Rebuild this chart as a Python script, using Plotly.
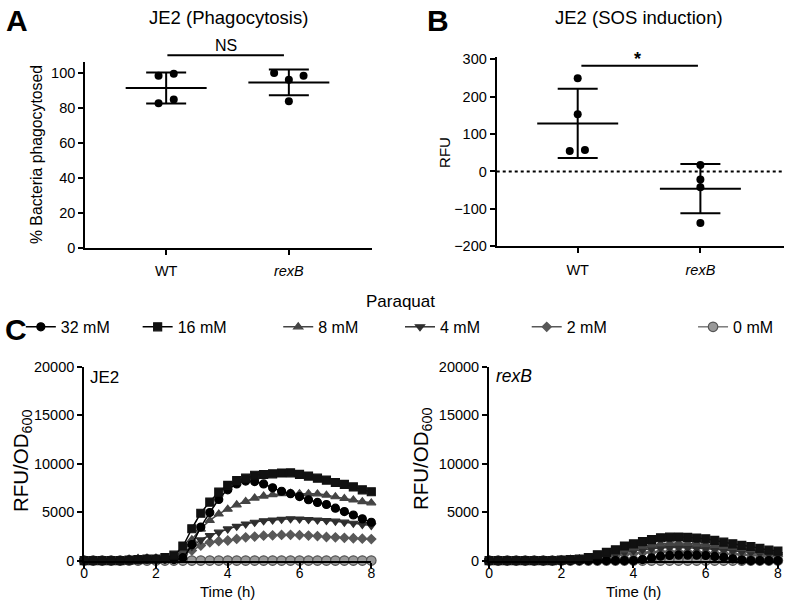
import plotly.graph_objects as go
import statistics

W, H = 800, 609
FONT = "Liberation Sans, Arial, sans-serif"

# the photographed page maps figure y -> 9 + 0.971*y ; positions below are given in
# target-picture pixels and converted back to figure pixels
SY, OY = 0.971, 9.0


def px(x):
    return x / W


def fy(ry):
    return (ry - OY) / SY


def py(ry):
    return (H - fy(ry)) / H


# ---------------- data ----------------
groups = ["WT", "<i>rexB</i>"]
group_pos = [1, 2]

phago_wt = [98.3, 99.4, 82.5, 84.6]
phago_rexb = [99.8, 96.0, 98.3, 83.6]
phago_wt_dx = [-0.062, 0.062, -0.062, 0.062]
phago_rexb_dx = [-0.12, 0.0, 0.12, 0.0]

sos_wt = [249.0, 152.7, 54.5, 57.0]
sos_rexb = [17.0, -21.4, -42.0, -137.5]
sos_wt_dx = [0.0, 0.0, -0.065, 0.059]
sos_rexb_dx = [0.0, 0.0, 0.0, 0.0]

time_h = [0, 0.25, 0.5, 0.75, 1, 1.25, 1.5, 1.75, 2, 2.25, 2.5, 2.75, 3, 3.25, 3.5, 3.75,
          4, 4.25, 4.5, 4.75, 5, 5.25, 5.5, 5.75, 6, 6.25, 6.5, 6.75, 7, 7.25, 7.5, 7.75, 8]

conc_labels = ["32 mM", "16 mM", "8 mM", "4 mM", "2 mM", "0 mM"]

je2_32 = [0, 0, 0, 0, 0, 50, 100, 150, 150, 150, 100, 300, 1650, 3450, 4950, 6300, 7300,
          7900, 8200, 8150, 7900, 7500, 7150, 6900, 6600, 6270, 6000, 5780, 5400, 5050, 4700, 4300, 3950]
je2_16 = [0, 0, 0, 0, 0, 50, 100, 150, 150, 300, 550, 1500, 3280, 4880, 6030, 7060, 7750,
          8250, 8500, 8800, 8880, 8950, 9030, 9050, 8900, 8720, 8500, 8300, 8050, 7850, 7600, 7300, 7100]
je2_8 = [0, 0, 0, 0, 0, 100, 200, 200, 200, 150, 200, 900, 2150, 3250, 4130, 4800, 5300,
         5750, 6100, 6450, 6650, 6800, 6900, 6950, 6900, 6900, 6880, 6750, 6580, 6400, 6250, 6080, 5950]
je2_4 = [0, 0, 0, 0, 0, 150, 250, 250, 250, 200, 250, 800, 1450, 2130, 2580, 2930, 3260,
         3530, 3770, 3950, 4100, 4180, 4250, 4300, 4280, 4230, 4180, 4130, 4060, 3960, 3850, 3720, 3620]
je2_2 = [0, 0, 0, 0, 0, 100, 150, 200, 200, 150, 200, 600, 1030, 1540, 1880, 2000, 2070,
         2230, 2400, 2470, 2570, 2600, 2640, 2650, 2620, 2580, 2520, 2430, 2400, 2350, 2300, 2260, 2220]
je2_0 = [0, 0, 0, 0, 0, 0, 0, 0, 0, 0, 0, 0, 0, 0, 0, 0, 0,
         0, 0, 0, 0, 0, 0, 0, 0, 0, 0, 0, 0, 0, 0, 0, 0]

rexb_32 = [0, 0, 0, 0, 0, 0, 0, 0, 0, 0, 0, 0, 0, 0, 0, 0, 0,
           100, 280, 450, 530, 560, 560, 550, 520, 430, 330, 180, 50, 0, 0, 0, 0]
rexb_16 = [0, 0, 0, 0, 0, 0, 0, 0, 50, 100, 150, 300, 600, 850, 1100, 1500, 1720,
           1950, 2150, 2350, 2420, 2430, 2400, 2320, 2240, 2080, 1900, 1730, 1570, 1450, 1250, 1080, 980]
rexb_8 = [0, 0, 0, 0, 0, 0, 0, 0, 50, 100, 150, 250, 450, 650, 850, 1100, 1300,
          1480, 1620, 1720, 1780, 1800, 1780, 1720, 1650, 1560, 1460, 1350, 1240, 1120, 1000, 880, 780]
rexb_4 = [0, 0, 0, 0, 0, 0, 0, 0, 50, 80, 120, 200, 350, 500, 680, 850, 1000,
          1120, 1220, 1290, 1330, 1340, 1320, 1280, 1220, 1150, 1070, 990, 910, 830, 750, 680, 620]
rexb_2 = [0, 0, 0, 0, 0, 0, 0, 0, 30, 60, 100, 150, 250, 380, 500, 620, 720,
          800, 860, 900, 920, 920, 900, 870, 830, 780, 730, 680, 630, 580, 530, 480, 440]
rexb_0 = [0, 0, 0, 0, 0, 0, 0, 0, 0, 0, 0, 0, 0, 0, 0, 0, 0,
          0, 0, 0, 0, 0, 0, 0, 0, 0, 0, 0, 0, 0, 0, 0, 0]

c_yticks = [0, 5000, 10000, 15000, 20000]
c_xticks = [0, 2, 4, 6, 8]

# ---------------- styles ----------------
series_style = [
    dict(symbol="circle", color="#000000", line="#000000", size=8, lc="#000000"),
    dict(symbol="square", color="#111111", line="#111111", size=8, lc="#000000"),
    dict(symbol="triangle-up", color="#444444", line="#444444", size=8, lc="#444444"),
    dict(symbol="triangle-down", color="#2e2e2e", line="#2e2e2e", size=8, lc="#333333"),
    dict(symbol="diamond", color="#585858", line="#585858", size=7, lc="#585858"),
    dict(symbol="circle", color="#999999", line="#555555", size=9.5, lc="#7a7a7a"),
]
legend_x_px = [40, 158, 300, 423, 551, 719]
legend_names = ["legend", "legend2", "legend3", "legend4", "legend5", "legend6"]

XR = [0.34, 2.68]
YR_A = [0, 106]
YR_B = [-200, 306]

fig = go.Figure()


def dot_plot(xa, ya, vals_list, dx_list):
    for pos, vals, dx in zip(group_pos, vals_list, dx_list):
        m = statistics.mean(vals)
        sd = statistics.stdev(vals)
        fig.add_trace(go.Scatter(x=[pos - 0.33, pos + 0.33], y=[m, m], mode="lines",
                                 line=dict(color="black", width=2), xaxis=xa, yaxis=ya,
                                 showlegend=False, hoverinfo="skip"))
        fig.add_trace(go.Scatter(x=[pos], y=[m], mode="markers",
                                 marker=dict(size=1, color="rgba(0,0,0,0)"),
                                 error_y=dict(type="data", array=[sd], visible=True,
                                              color="black", thickness=2, width=20),
                                 xaxis=xa, yaxis=ya, showlegend=False, hoverinfo="skip"))
        fig.add_trace(go.Scatter(x=[pos + d for d in dx], y=vals, mode="markers",
                                 marker=dict(size=8, color="black"), xaxis=xa, yaxis=ya,
                                 showlegend=False, cliponaxis=False))


dot_plot("x", "y", [phago_wt, phago_rexb], [phago_wt_dx, phago_rexb_dx])
dot_plot("x2", "y2", [sos_wt, sos_rexb], [sos_wt_dx, sos_rexb_dx])

je2_series = [je2_32, je2_16, je2_8, je2_4, je2_2, je2_0]
rexb_series = [rexb_32, rexb_16, rexb_8, rexb_4, rexb_2, rexb_0]

order = [5, 4, 3, 2, 0, 1]
for xa, ya, series, show in [("x3", "y3", je2_series, True), ("x4", "y4", rexb_series, False)]:
    for i in order:
        st = series_style[i]
        fig.add_trace(go.Scatter(
            x=time_h, y=series[i], mode="lines+markers", name=conc_labels[i],
            line=dict(color=st["lc"], width=1.5, shape="spline", smoothing=0.5),
            marker=dict(symbol=st["symbol"], size=st["size"], color=st["color"],
                        line=dict(color=st["line"], width=1.2)),
            xaxis=xa, yaxis=ya, showlegend=show, legend=legend_names[i],
            cliponaxis=False))

axis_common = dict(showline=True, linewidth=2, linecolor="black", ticks="outside",
                   ticklen=5, tickwidth=2, tickcolor="black", showgrid=False, zeroline=False,
                   tickfont=dict(family=FONT, size=14.5, color="black"))
axis_c_x = dict(axis_common, tickfont=dict(family=FONT, size=14, color="black"))

fig.update_layout(
    width=W, height=H, margin=dict(l=0, r=0, t=0, b=0),
    paper_bgcolor="white", plot_bgcolor="white",
    font=dict(family=FONT, color="black"),
    xaxis=dict(domain=[px(82), px(372)], range=XR, tickvals=group_pos, ticktext=groups,
               anchor="y", ticklabelstandoff=4, **axis_common),
    yaxis=dict(domain=[py(248), py(63)], range=YR_A, tickvals=[0, 20, 40, 60, 80, 100],
               anchor="x", **axis_common),
    xaxis2=dict(domain=[px(497.7), px(787.7)], range=XR, tickvals=group_pos, ticktext=groups,
                anchor="y2", ticklabelstandoff=4, **axis_common),
    yaxis2=dict(domain=[py(246.7), py(57.7)], range=YR_B,
                tickvals=[-200, -100, 0, 100, 200, 300], anchor="x2", **axis_common),
    xaxis3=dict(domain=[px(81), px(371)], range=[0, 8], tickvals=c_xticks,
                anchor="y3", ticklabelstandoff=-6, **axis_c_x),
    yaxis3=dict(domain=[py(560), py(366.7)], range=[0, 20000], tickvals=c_yticks,
                ticktext=[str(v) for v in c_yticks], anchor="x3", **axis_common),
    xaxis4=dict(domain=[px(490), px(781.7)], range=[0, 8], tickvals=c_xticks,
                anchor="y4", ticklabelstandoff=-6, **axis_c_x),
    yaxis4=dict(domain=[py(560), py(366.7)], range=[0, 20000], tickvals=c_yticks,
                ticktext=[str(v) for v in c_yticks], anchor="x4", **axis_common),
)

for i, name in enumerate(legend_names):
    fig.update_layout(**{name: dict(
        x=px(legend_x_px[i] - 23), y=py(327), xanchor="left", yanchor="middle",
        orientation="h", bgcolor="rgba(0,0,0,0)", borderwidth=0, itemwidth=30,
        font=dict(family=FONT, size=16, color="black"))})


def frac(v, r):
    return (v - r[0]) / (r[1] - r[0])


fig.add_shape(type="line", xref="x domain", yref="y domain",
              x0=frac(1.01, XR), x1=frac(1.96, XR), y0=frac(109.9, YR_A), y1=frac(109.9, YR_A),
              line=dict(color="black", width=2))
fig.add_shape(type="line", xref="x2 domain", yref="y2 domain",
              x0=frac(1.03, XR), x1=frac(1.98, XR), y0=frac(282, YR_B), y1=frac(282, YR_B),
              line=dict(color="black", width=2))
fig.add_shape(type="line", xref="x2 domain", yref="y2 domain", x0=0, x1=1,
              y0=frac(0, YR_B), y1=frac(0, YR_B), line=dict(color="black", width=2, dash="dot"))


def ann(text, x, y, size, xanchor="center", yanchor="middle", angle=0, bold=False,
        paper_y=None):
    if bold:
        text = "<b>" + text + "</b>"
    fig.add_annotation(text=text, x=px(x), y=py(y) if paper_y is None else paper_y,
                       xref="paper", yref="paper", borderpad=0,
                       xanchor=xanchor, yanchor=yanchor, textangle=angle, showarrow=False,
                       font=dict(family=FONT, size=size, color="black"))


ann("A", 13, 21, 30, bold=True)
ann("B", 438, 21, 30, bold=True)
ann("C", 12, 330, 30, bold=True)
ann("JE2 (Phagocytosis)", 227, 18, 18.5)
ann("JE2 (SOS induction)", 641, 18, 18.5)
ann("NS", 224, 46, 16)
ann("*", 640, 60, 18, bold=True)
ann("% Bacteria phagocytosed", 33, 155, 15.8, angle=-90)
ann("RFU", 445, 153, 15, angle=-90)
ann("Paraquat", 400, 302, 17)
ann("RFU/OD<sub>600</sub>", 18, 460, 20.5, angle=-90)
ann("RFU/OD<sub>600</sub>", 422, 458, 20.5, angle=-90)
ann("Time (h)", 226, 0, 15, yanchor="bottom", paper_y=0)
ann("Time (h)", 636, 0, 15, yanchor="bottom", paper_y=0)
ann("JE2", 86, 377, 17, xanchor="left")
ann("<i>rexB</i>", 496, 376, 17.5, xanchor="left")

fig.write_html(
    "out.html",
    config={"displayModeBar": False},
    post_script="document.documentElement.style.margin='0';"
                "document.body.style.margin='0';"
                "document.body.style.overflow='hidden';"
                "document.documentElement.style.overflow='hidden';"
                "var g=document.querySelector('.plotly-graph-div');"
                "g.style.position='fixed';g.style.left='0px';g.style.top='0px';",
)
